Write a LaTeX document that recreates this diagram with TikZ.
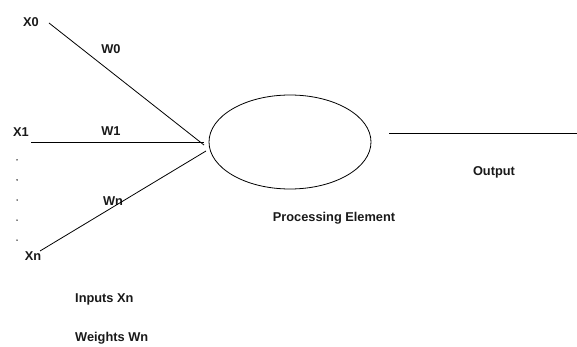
\documentclass[tikz,border=0pt]{standalone}
\usepackage{fontspec}
\setmainfont{Liberation Sans}
\usetikzlibrary{shapes.geometric}
\begin{document}
\begin{tikzpicture}[x=1pt,y=-1pt,
  lbl/.style={font=\fontsize{12.8}{15}\selectfont\bfseries, inner sep=0pt, text=black!90},
  wire/.style={draw=black, line width=0.8pt},
  dotmark/.style={circle, fill=black, inner sep=0pt, minimum size=1.5pt}]
\useasboundingbox (0,0) rectangle (577,347);
% processing element
\node[ellipse, draw, line width=0.8pt, minimum width=162pt, minimum height=94pt, inner sep=0pt] (pe) at (290,142) {};
% labels
\node[lbl] (x0) at (31,22) {X0};
\node[lbl] (w0) at (111,49) {W0};
\node[lbl] (x1) at (21,132) {X1};
\node[lbl] (w1) at (111,131) {W1};
\node[lbl] (wn) at (113,201) {Wn};
\node[lbl] (xn) at (33,256) {Xn};
\node[lbl] (out) at (494,172) {Output};
\node[lbl] (pel) at (334,218) {Processing Element};
\node[lbl, anchor=west] (inp) at (75,299) {Inputs Xn};
\node[lbl, anchor=west] (wgt) at (75,338) {Weights Wn};
% dots
\foreach \i/\y in {1/160,2/180,3/200,4/220,5/240} \node[dotmark] (d\i) at (17,\y) {};
% connector endpoints
\coordinate (s0) at (49,23);
\coordinate (e0) at (204,145);
\coordinate (s1) at (31,142);
\coordinate (e1) at (204,142);
\coordinate (sn) at (40,251);
\coordinate (en) at (206,151);
\coordinate (os) at (389,133);
\coordinate (oe) at (577,133);
\draw[wire] (s0) -- (e0);
\draw[wire] (s1) -- (e1);
\draw[wire] (sn) -- (en);
\draw[wire] (os) -- (oe);
\end{tikzpicture}
\end{document}
